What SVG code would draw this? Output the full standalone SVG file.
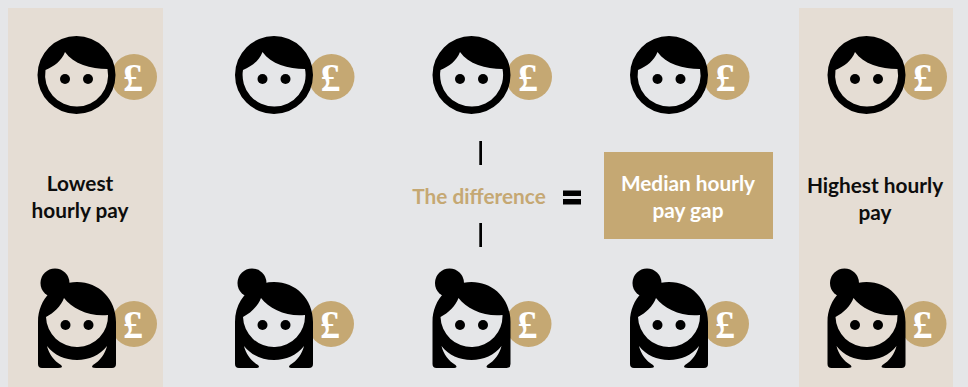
<svg xmlns="http://www.w3.org/2000/svg" width="968" height="387" viewBox="0 0 968 387">
<style>
.t{font-family:"Lato","Open Sans",sans-serif;font-weight:700;font-size:20.800px;text-anchor:middle;fill:#0d0d0d}
.w{fill:#fff}.g{fill:#c5a873}
.p{font-family:"Liberation Serif",serif;font-size:40px;font-weight:700;fill:#fff;text-anchor:middle}
.c{fill:#c5a873}
</style>
<defs>
<g id="man">
<circle class="c" cx="57.500" cy="2" r="23"/>
<path fill-rule="evenodd" d="M-39 0A39 39 0 1 1 39 0A39 39 0 1 1-39 0ZM-31-5C-22-9-15-14-11.500-23C-3-11 14-6 31-6A31.500 31.500 0 1 1-31-5Z"/>
<circle cx="-11.500" cy="4" r="5"/><circle cx="11.500" cy="4" r="5"/>
<text class="p" x="56.500" y="15.500">£</text>
</g>
<g id="woman">
<circle class="c" cx="57" cy="-1" r="23"/>
<circle cx="-22" cy="-42" r="14.500"/>
<path fill-rule="evenodd" d="M-39-3C-39-27-21-43 0-43C22-43 39-26 39-3V39Q39 43 35 43H19Q13 43 16 40C23 36 28 29 30 21C23 30 12 35 0 35C-12 35-23 30-30 21C-28 29-23 36-16 40Q-13 43-19 43H-35Q-39 43-39 39ZM-31-8C-23-12-16-19-13-27C-5-16 13-8 31-10A31 31 0 0 1-31-8Z"/>
<circle cx="-11.500" cy="0" r="5"/><circle cx="11.500" cy="0" r="5"/>
<text class="p" x="56" y="12.500">£</text>
</g>
</defs>
<rect id="background" width="968" height="387" fill="#e5e6e8"/>
<rect id="panel-left" x="8" y="8" width="155" height="379" fill="#e5ddd4"/>
<rect id="panel-right" x="799" y="8" width="154" height="379" fill="#e5ddd4"/>
<g id="man-1"><use href="#man" x="76.500" y="75"/></g>
<g id="man-2"><use href="#man" x="274" y="75"/></g>
<g id="man-3"><use href="#man" x="471.500" y="75"/></g>
<g id="man-4"><use href="#man" x="669" y="75"/></g>
<g id="man-5"><use href="#man" x="866.500" y="75"/></g>
<g id="woman-1"><use href="#woman" x="77" y="325"/></g>
<g id="woman-2"><use href="#woman" x="274" y="325"/></g>
<g id="woman-3"><use href="#woman" x="471.500" y="325"/></g>
<g id="woman-4"><use href="#woman" x="669" y="325"/></g>
<g id="woman-5"><use href="#woman" x="866.500" y="325"/></g>
<g id="label-lowest"><text class="t" x="80" y="191">Lowest</text><text class="t" x="80" y="218">hourly pay</text></g>
<g id="label-highest"><text class="t" x="875" y="193">Highest hourly</text><text class="t" x="875" y="220">pay</text></g>
<g id="label-difference"><text class="t g" x="479" y="204">The difference</text></g>
<g id="connectors" fill="#000">
<rect x="479.300" y="141" width="2.700" height="24"/>
<rect x="479.300" y="223" width="2.700" height="24"/>
<rect x="563" y="190.500" width="18" height="5.500"/>
<rect x="563" y="199" width="18" height="5.500"/>
</g>
<g id="gap"><rect x="604" y="152" width="169" height="87" fill="#c5a873"/><text class="t w" x="688" y="191">Median hourly</text><text class="t w" x="688" y="218">pay gap</text></g>
</svg>
